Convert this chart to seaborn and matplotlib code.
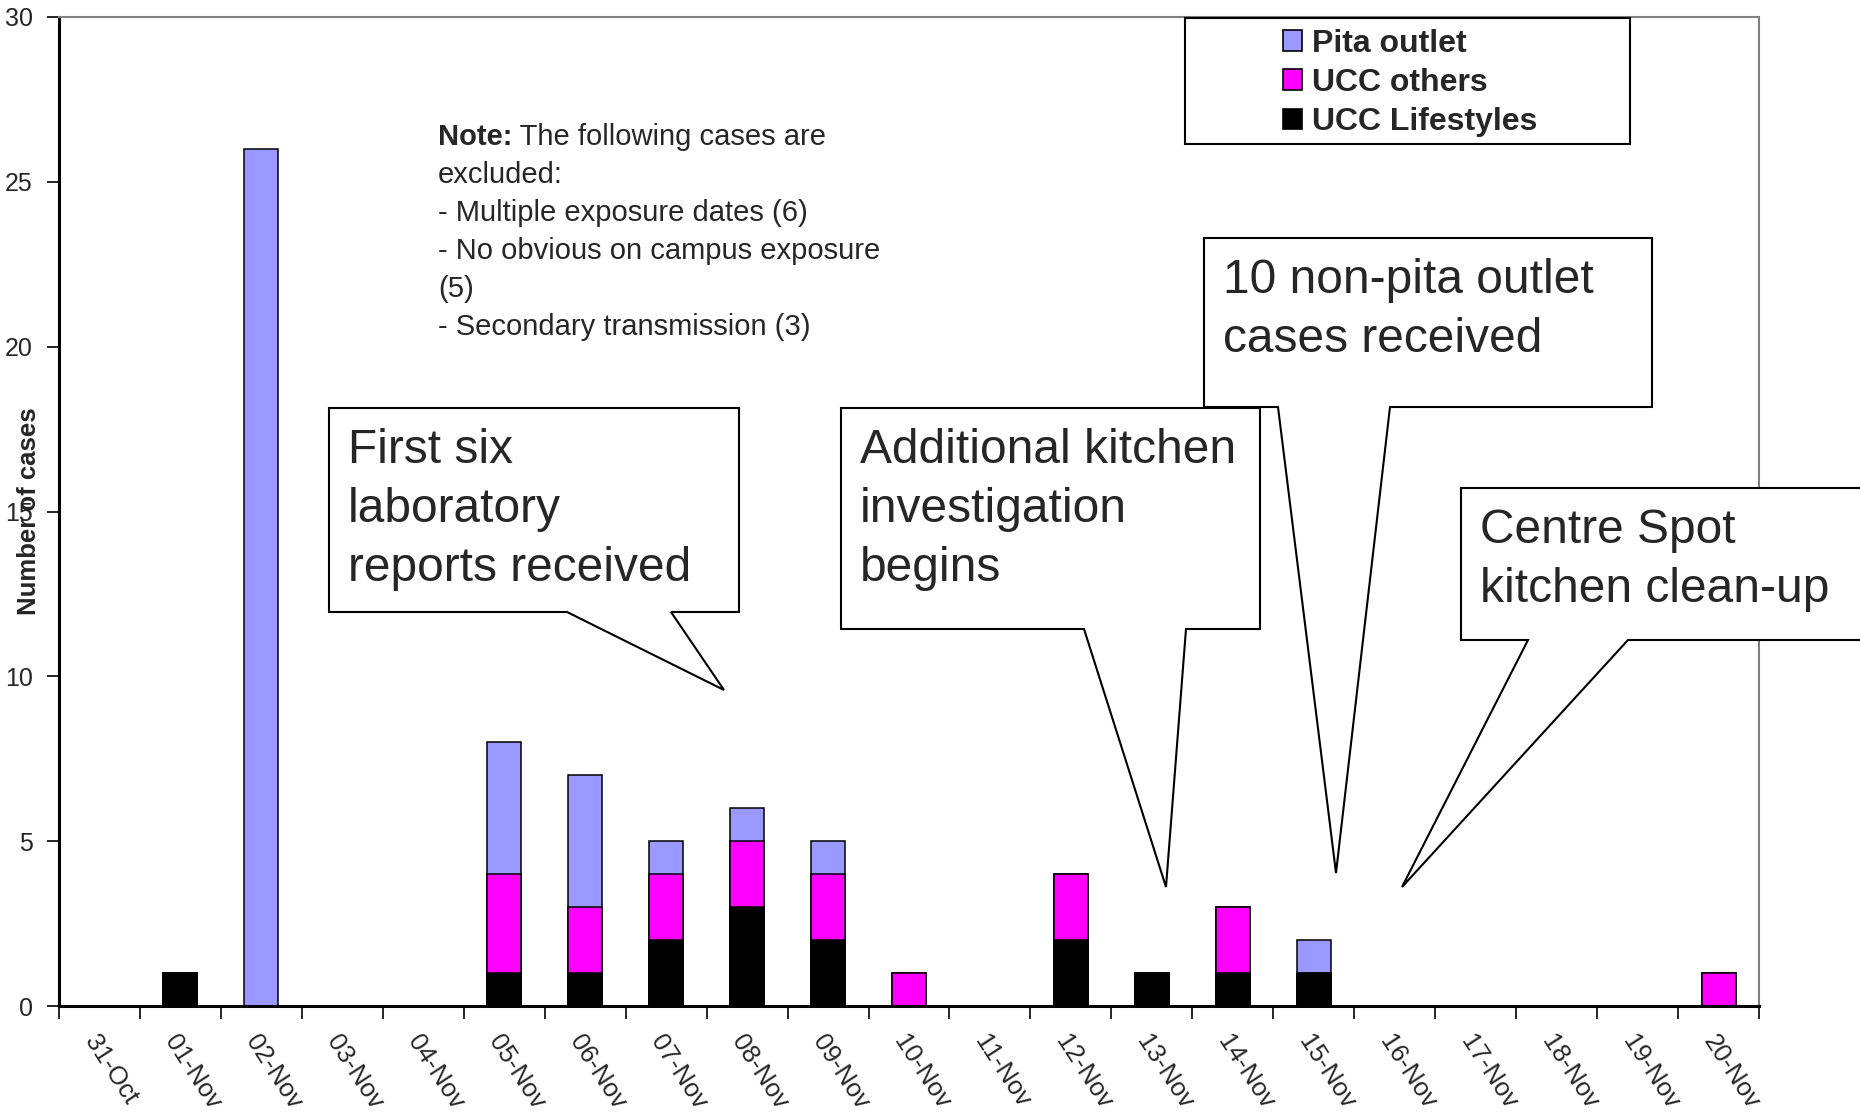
import matplotlib
matplotlib.use("Agg")
import matplotlib.pyplot as plt
import seaborn as sns
import pandas as pd
from matplotlib.patches import Polygon, Rectangle, Patch

# ---- data -------------------------------------------------------------
dates = ["31-Oct", "01-Nov", "02-Nov", "03-Nov", "04-Nov", "05-Nov", "06-Nov",
         "07-Nov", "08-Nov", "09-Nov", "10-Nov", "11-Nov", "12-Nov", "13-Nov",
         "14-Nov", "15-Nov", "16-Nov", "17-Nov", "18-Nov", "19-Nov", "20-Nov"]
ucc_lifestyles = [0, 1, 0, 0, 0, 1, 1, 2, 3, 2, 0, 0, 2, 1, 1, 1, 0, 0, 0, 0, 0]
ucc_others     = [0, 0, 0, 0, 0, 3, 2, 2, 2, 2, 1, 0, 2, 0, 2, 0, 0, 0, 0, 0, 1]
pita_outlet    = [0, 0, 26, 0, 0, 4, 4, 1, 1, 1, 0, 0, 0, 0, 0, 1, 0, 0, 0, 0, 0]

series_names = ["Pita outlet", "UCC others", "UCC Lifestyles"]
series_colors = ["#9999FF", "#FF00FF", "#000000"]
y_ticks = [0, 5, 10, 15, 20, 25, 30]

note_title = "Note:"
note_first = " The following cases are"
note_lines = ["excluded:",
              "- Multiple exposure dates (6)",
              "- No obvious on campus exposure",
              "(5)",
              "- Secondary transmission (3)"]

callout_texts = [
    ["First six", "laboratory", "reports received"],
    ["Additional kitchen", "investigation", "begins"],
    ["10 non-pita outlet", "cases received"],
    ["Centre Spot", "kitchen clean-up"],
]

# ---- figure -----------------------------------------------------------
W, H = 1860, 1112
sns.set_style("white")
plt.rcParams["font.family"] = ["Liberation Sans", "DejaVu Sans"]

fig = plt.figure(figsize=(W / 100, H / 100), dpi=100)


def fx(px):
    return px / W


def fy(py):
    return 1 - py / H


ax = fig.add_axes([fx(59), fy(1006), fx(1759) - fx(59), fy(17) - fy(1006)])

df = pd.DataFrame({
    "date": dates,
    "lifestyles": ucc_lifestyles,
    "others": ucc_others,
    "pita": pita_outlet,
})
df["top_lo"] = df["lifestyles"] + df["others"]
df["top_all"] = df["top_lo"] + df["pita"]

# stacked bars drawn back to front as cumulative heights
for col, color in [("top_all", series_colors[0]),
                   ("top_lo", series_colors[1]),
                   ("lifestyles", series_colors[2])]:
    sns.barplot(data=df, x="date", y=col, order=dates, color=color,
                saturation=1, edgecolor="black", linewidth=1.1, width=0.42,
                errorbar=None, ax=ax)

ax.set_xlim(-0.5, len(dates) - 0.5)
ax.set_ylim(0, 30)
ax.set_yticks(y_ticks)
ax.set_yticklabels([str(v) for v in y_ticks], fontsize=18)
ax.tick_params(axis="y", direction="out", length=9, width=1.2, pad=10,
               left=True, color="black")

ax.set_xticks(range(len(dates)))
ax.set_xticklabels(dates, fontsize=18.5, rotation=-57, ha="left", va="top",
                   rotation_mode="anchor")
ax.tick_params(axis="x", which="major", length=0, pad=18)
ax.set_xticks([i - 0.5 for i in range(len(dates) + 1)], minor=True)
ax.tick_params(axis="x", which="minor", direction="out", length=9,
               width=1.2, bottom=True, color="black")

ax.set_xlabel("")
ax.set_ylabel("Number of cases", fontsize=18.5, fontweight="bold")
ax.yaxis.set_label_coords(-0.0105, 0.5)

for side in ["left", "bottom"]:
    ax.spines[side].set_color("black")
    ax.spines[side].set_linewidth(2.2)
for side in ["top", "right"]:
    ax.spines[side].set_color("#808080")
    ax.spines[side].set_linewidth(1.5)

# ---- legend inside a framed box --------------------------------------
box = Rectangle((fx(1185), fy(144)), fx(1630) - fx(1185), fy(18) - fy(144),
                transform=fig.transFigure, facecolor="white",
                edgecolor="black", linewidth=1.5, zorder=5)
fig.add_artist(box)
handles = [Patch(facecolor=c, edgecolor="black", linewidth=1.2)
           for c in series_colors]
leg = fig.legend(handles, series_names, loc="center",
                 bbox_to_anchor=(fx(1410), fy(83)), frameon=False,
                 prop={"weight": "bold", "size": 23},
                 handlelength=0.62, handleheight=0.62, handletextpad=0.3,
                 labelspacing=0.29, borderpad=0)
leg.set_zorder(6)

# ---- note ---------------------------------------------------------------
t0 = fig.text(fx(438), fy(145), note_title, fontsize=21, fontweight="bold",
              ha="left", va="baseline")
ax.annotate(note_first, xy=(1, 0), xycoords=t0, ha="left", va="bottom",
            fontsize=21, annotation_clip=False)
for i, line in enumerate(note_lines):
    fig.text(fx(438), fy(145 + 38 * (i + 1)), line, fontsize=21,
             ha="left", va="baseline")

# ---- callouts -----------------------------------------------------------
callout_shapes = [
    # box (x0, y0, x1, y1), tail (left base x, apex x, apex y, right base x)
    ((329, 408, 739, 612), (567, 724, 690, 671)),
    ((841, 408, 1260, 629), (1084, 1166, 887, 1186)),
    ((1204, 238, 1652, 407), (1278, 1336, 873, 1390)),
    ((1461, 488, 1900, 640), (1528, 1402, 887, 1628)),
]
for (bx, tail), lines in zip(callout_shapes, callout_texts):
    x0, y0, x1, y1 = bx
    lb, ax_, ay_, rb = tail
    pts = [(x0, y0), (x1, y0), (x1, y1), (rb, y1), (ax_, ay_), (lb, y1),
           (x0, y1)]
    poly = Polygon([(fx(px), fy(py)) for px, py in pts], closed=True,
                   transform=fig.transFigure, facecolor="white",
                   edgecolor="black", linewidth=1.5, zorder=7)
    fig.add_artist(poly)
    for j, line in enumerate(lines):
        t = fig.text(fx(x0 + 19), fy(y0 + 55 + 59 * j), line, fontsize=34.5,
                     ha="left", va="baseline")
        t.set_zorder(8)

fig.savefig("out.png", dpi=100)
